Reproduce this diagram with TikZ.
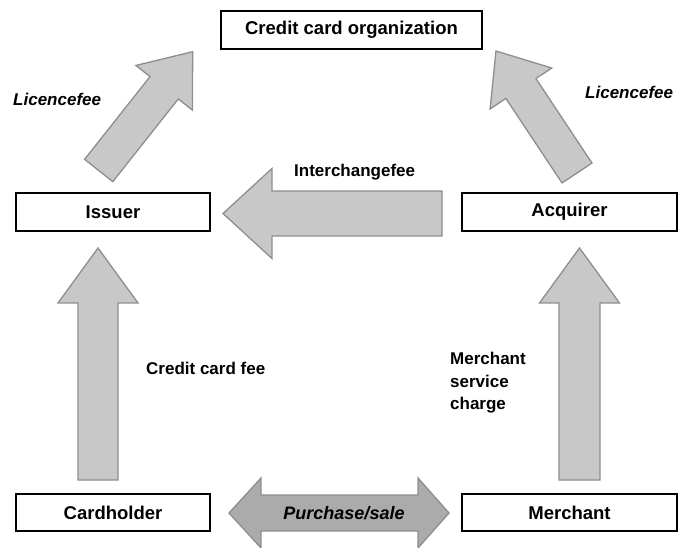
\documentclass[tikz,border=0pt]{standalone}
\usepackage{fontspec}
\setmainfont{Liberation Sans}
\usetikzlibrary{calc}
\definecolor{arrowfill}{HTML}{C8C8C8}
\definecolor{arrowline}{HTML}{8E8E8E}
\definecolor{dblfill}{HTML}{ABABAB}
\newcommand{\blockarrow}[6][]{%
  \coordinate (tmpH) at ($(#3)!#6!(#2)$);
  \draw[#1] ($(#2)!#4!90:(#3)$) -- ($(tmpH)!#4!90:(#3)$) -- ($(tmpH)!#5!90:(#3)$) -- (#3)
    -- ($(tmpH)!#5!-90:(#3)$) -- ($(tmpH)!#4!-90:(#3)$) -- ($(#2)!#4!-90:(#3)$) -- cycle;}
\begin{document}
\begin{tikzpicture}[x=1pt,y=-1pt,
  box/.style={draw=black,line width=2.4pt,fill=white,inner sep=0pt,
    font=\fontsize{18.5}{22}\selectfont\bfseries},
  lbl/.style={inner sep=0pt,font=\fontsize{17}{22.5}\selectfont\bfseries},
  ilbl/.style={inner sep=0pt,font=\fontsize{17}{22.5}\selectfont\bfseries\itshape},
  barrow/.style={fill=arrowfill,draw=arrowline,line width=1.3pt,line join=miter},
  dblarrow/.style={fill=dblfill,draw=arrowline,line width=1.3pt,line join=miter}]
\useasboundingbox (0,0) rectangle (678,548);

% boxes
\node[box,minimum width=261pt,minimum height=38pt] (cco) at (351.5,30) {Credit card organization};
\node[box,minimum width=194pt,minimum height=38pt] (iss) at (113,212) {Issuer};
\node[box,minimum width=215pt,minimum height=38pt] (acq) at (569.5,212) {Acquirer};
\node[box,minimum width=194pt,minimum height=37pt] (chd) at (113,512.5) {Cardholder};
\node[box,minimum width=215pt,minimum height=37pt] (mer) at (569.5,512.5) {Merchant};

% arrow end points
\coordinate (ldb) at (98.7,170.5);  \coordinate (ldt) at (192.7,51.7);
\coordinate (rdb) at (577,173);     \coordinate (rdt) at (496,51);
\coordinate (icb) at (442,213.5);   \coordinate (ict) at (223,213.5);
\coordinate (lvb) at (98,480);      \coordinate (lvt) at (98,248);
\coordinate (rvb) at (579.5,480);   \coordinate (rvt) at (579.5,248);

\blockarrow[barrow]{ldb}{ldt}{18pt}{36pt}{46pt}
\blockarrow[barrow]{rdb}{rdt}{18pt}{37pt}{45pt}
\blockarrow[barrow]{icb}{ict}{22.5pt}{45pt}{49pt}
\blockarrow[barrow]{lvb}{lvt}{20pt}{40pt}{55pt}
\blockarrow[barrow]{rvb}{rvt}{20.5pt}{40pt}{55pt}

% purchase / sale double arrow
\draw[dblarrow] (229,513) -- (261,478) -- (261,495) -- (418,495) -- (418,478) -- (449,513)
  -- (418,548) -- (418,531) -- (261,531) -- (261,548) -- cycle;
\node[ilbl,font=\fontsize{18}{22}\selectfont\bfseries\itshape] (ps) at (344,513) {Purchase/sale};

% labels
\node[ilbl,anchor=west] (lfl) at (13,99) {Licencefee};
\node[ilbl,anchor=west] (lfr) at (585,92) {Licencefee};
\node[lbl,anchor=west] (icf) at (294,172) {Interchangefee};
\node[lbl,anchor=west] (ccf) at (146,368) {Credit card fee};
\node[lbl,anchor=west,align=left] (msc) at (450,383) {Merchant\\service\\charge};
\end{tikzpicture}
\end{document}
